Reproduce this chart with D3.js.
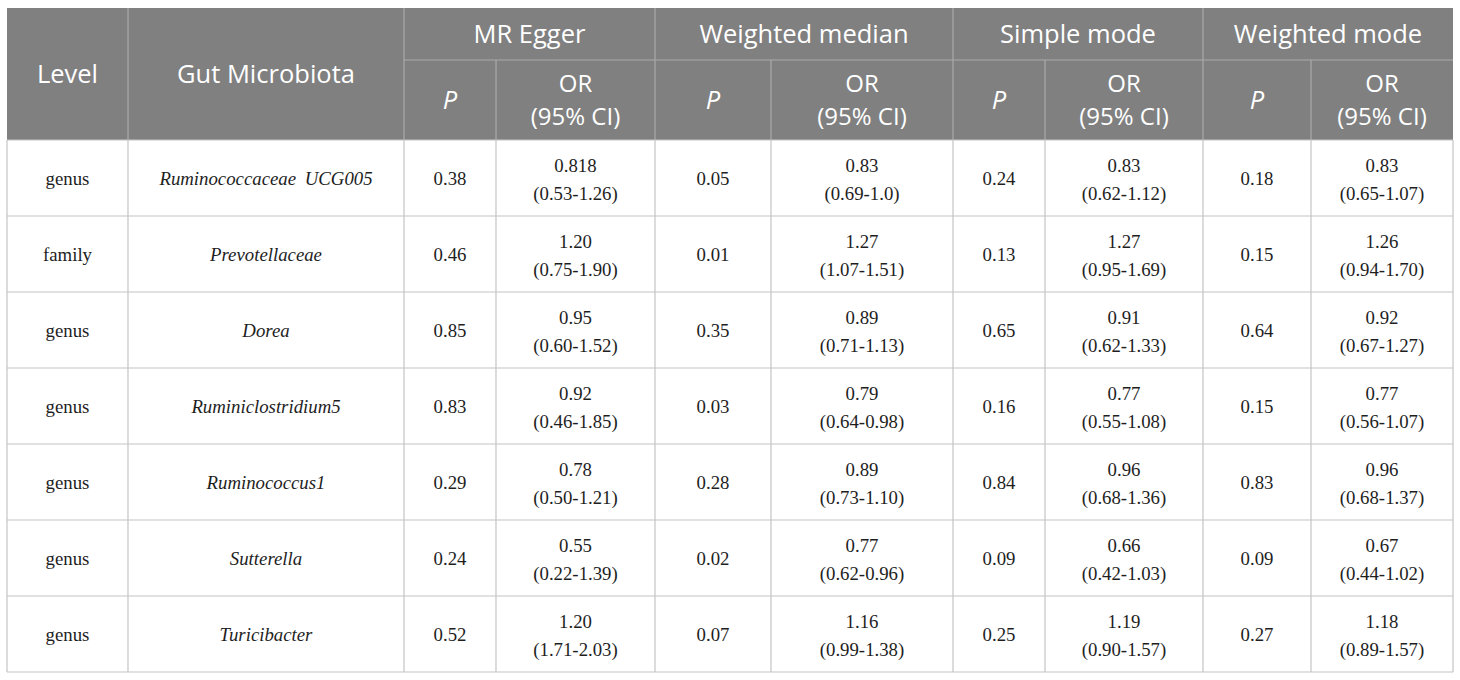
<!DOCTYPE html>
<html>
<head>
<meta charset="utf-8">
<script src="https://cdn.jsdelivr.net/npm/d3@7"></script>
<style>
  body { margin: 0; background: #fff; }
  .head { font-family: "Open Sans", sans-serif; fill: #fff; font-size: 25.5px; }
  .head .or { font-size: 24px; }
  .cell { font-family: "Liberation Serif", serif; fill: #1e1e1e; font-size: 18.8px; }
</style>
</head>
<body>
<div id="table"></div>
<script>
const methods = ["MR Egger", "Weighted median", "Simple mode", "Weighted mode"];
const levels = ["genus", "family", "genus", "genus", "genus", "genus", "genus"];
const microbiota = [
  "Ruminococcaceae UCG005", "Prevotellaceae", "Dorea", "Ruminiclostridium5",
  "Ruminococcus1", "Sutterella", "Turicibacter"
];

// one array per method: P, OR, CI
const eggerP = ["0.38", "0.46", "0.85", "0.83", "0.29", "0.24", "0.52"];
const eggerOR = ["0.818", "1.20", "0.95", "0.92", "0.78", "0.55", "1.20"];
const eggerCI = ["0.53-1.26", "0.75-1.90", "0.60-1.52", "0.46-1.85", "0.50-1.21", "0.22-1.39", "1.71-2.03"];

const wmedianP = ["0.05", "0.01", "0.35", "0.03", "0.28", "0.02", "0.07"];
const wmedianOR = ["0.83", "1.27", "0.89", "0.79", "0.89", "0.77", "1.16"];
const wmedianCI = ["0.69-1.0", "1.07-1.51", "0.71-1.13", "0.64-0.98", "0.73-1.10", "0.62-0.96", "0.99-1.38"];

const smodeP = ["0.24", "0.13", "0.65", "0.16", "0.84", "0.09", "0.25"];
const smodeOR = ["0.83", "1.27", "0.91", "0.77", "0.96", "0.66", "1.19"];
const smodeCI = ["0.62-1.12", "0.95-1.69", "0.62-1.33", "0.55-1.08", "0.68-1.36", "0.42-1.03", "0.90-1.57"];

const wmodeP = ["0.18", "0.15", "0.64", "0.15", "0.83", "0.09", "0.27"];
const wmodeOR = ["0.83", "1.26", "0.92", "0.77", "0.96", "0.67", "1.18"];
const wmodeCI = ["0.65-1.07", "0.94-1.70", "0.67-1.27", "0.56-1.07", "0.68-1.37", "0.44-1.02", "0.89-1.57"];

const width = 1460;
const height = 680;
// column edges of the table
const colEdges = [7, 128, 404, 496, 655, 771, 953, 1045, 1203, 1311, 1453];
const tableTop = 8;
const headMid = 60;
const headBottom = 140;
const tableBottom = 672;

const methodCols = [
  { p: eggerP, or: eggerOR, ci: eggerCI },
  { p: wmedianP, or: wmedianOR, ci: wmedianCI },
  { p: smodeP, or: smodeOR, ci: smodeCI },
  { p: wmodeP, or: wmodeOR, ci: wmodeCI }
];

const svg = d3.select("#table").append("svg")
  .attr("width", width)
  .attr("height", height);

const y = d3.scaleBand()
  .domain(d3.range(levels.length))
  .range([headBottom, tableBottom]);

const colMid = (i) => (colEdges[i] + colEdges[i + 1]) / 2;

// header background
svg.append("rect")
  .attr("x", colEdges[0]).attr("y", tableTop)
  .attr("width", colEdges[colEdges.length - 1] - colEdges[0])
  .attr("height", headBottom - tableTop)
  .attr("fill", "#808080");

// header lines
const headLines = svg.append("g").attr("stroke", "#a9a9a9").attr("stroke-width", 1.2);
[1, 2, 4, 6, 8].forEach((i) => {
  headLines.append("line")
    .attr("x1", colEdges[i]).attr("x2", colEdges[i])
    .attr("y1", tableTop).attr("y2", headBottom);
});
[3, 5, 7, 9].forEach((i) => {
  headLines.append("line")
    .attr("x1", colEdges[i]).attr("x2", colEdges[i])
    .attr("y1", headMid).attr("y2", headBottom);
});
headLines.append("line")
  .attr("x1", colEdges[2]).attr("x2", colEdges[10])
  .attr("y1", headMid).attr("y2", headMid);

// header text
const head = svg.append("g").attr("class", "head").attr("text-anchor", "middle");
head.append("text").attr("x", colMid(0)).attr("y", 83).text("Level");
head.append("text").attr("x", colMid(1)).attr("y", 83).text("Gut Microbiota");
methods.forEach((m, k) => {
  const c = 2 + k * 2;
  head.append("text")
    .attr("x", (colEdges[c] + colEdges[c + 2]) / 2)
    .attr("y", 43)
    .text(m);
  head.append("text")
    .attr("x", colMid(c)).attr("y", 109)
    .attr("font-style", "italic")
    .text("P");
  head.append("text")
    .attr("class", "or")
    .attr("x", colMid(c + 1)).attr("y", 92)
    .text("OR");
  head.append("text")
    .attr("class", "or")
    .attr("x", colMid(c + 1)).attr("y", 125)
    .text("(95% CI)");
});

// body lines
const bodyLines = svg.append("g").attr("stroke", "#c4c4c4").attr("stroke-width", 1.2);
colEdges.forEach((x) => {
  bodyLines.append("line")
    .attr("x1", x).attr("x2", x)
    .attr("y1", headBottom).attr("y2", tableBottom);
});
d3.range(levels.length + 1).forEach((r) => {
  const yy = r < levels.length ? y(r) : tableBottom;
  bodyLines.append("line")
    .attr("x1", colEdges[0]).attr("x2", colEdges[10])
    .attr("y1", yy).attr("y2", yy);
});

// body text
const body = svg.append("g").attr("class", "cell").attr("text-anchor", "middle");
const rows = body.selectAll("g.row")
  .data(d3.range(levels.length))
  .join("g")
  .attr("class", "row")
  .attr("transform", (r) => `translate(0, ${y(r) + y.bandwidth() / 2})`);

rows.append("text").attr("x", colMid(0)).attr("y", 7).text((r) => levels[r]);
rows.append("text").attr("x", colMid(1)).attr("y", 7)
  .attr("font-style", "italic")
  .attr("word-spacing", "4px")
  .text((r) => microbiota[r]);

methodCols.forEach((m, k) => {
  const c = 2 + k * 2;
  rows.append("text").attr("x", colMid(c)).attr("y", 7).text((r) => m.p[r]);
  const or = rows.append("text").attr("y", -6);
  or.append("tspan").attr("x", colMid(c + 1)).text((r) => m.or[r]);
  or.append("tspan").attr("x", colMid(c + 1)).attr("dy", 28).text((r) => `(${m.ci[r]})`);
});
</script>
</body>
</html>
